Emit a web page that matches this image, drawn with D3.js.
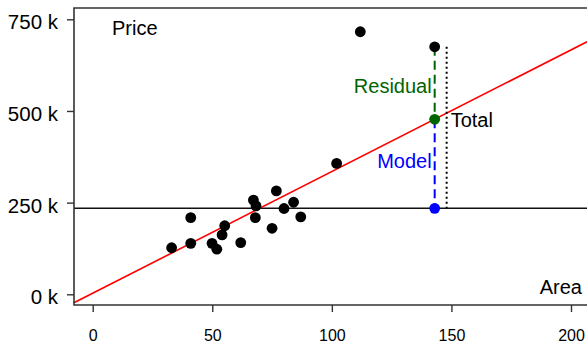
<!DOCTYPE html>
<html>
<head>
<meta charset="utf-8">
<script src="https://cdn.jsdelivr.net/npm/d3@7"></script>
<style>
  body { margin: 0; background: #fff; }
  svg { display: block; font-family: "Liberation Sans", Arial, sans-serif; }
</style>
</head>
<body>
<div id="chart"></div>
<script>
// house area (m2) vs price (k)
const area  = [33, 41, 41, 49.9, 51.9, 54.1, 55.2, 61.9, 67.2, 68.3, 68, 75, 76.8, 80, 84, 87, 102, 111.9, 143];
const price = [127, 209, 139, 139, 123, 162, 187, 141, 257, 241, 209, 180, 282, 234, 251, 211, 357, 716, 675];
const xTicks = [0, 50, 100, 150, 200];
const yTicks = [0, 250, 500, 750];

const meanPrice = 234.5;   // horizontal line
const intercept = 3;       // fitted line
const slope = 3.317;
const pickIdx = 18;        // point used for the decomposition
const totalOffset = 5;     // dotted "Total" line sits a bit to the right

const width = 587, height = 343;
const plotLeft = 74, plotTop = 8, plotBottom = 305;

const svg = d3.select("#chart").append("svg").attr("width", width).attr("height", height);

const x = d3.scaleLinear().domain([0, 200]).range([92.7, 571]);
const y = d3.scaleLinear().domain([0, 750]).range([294.3, 19.3]);

svg.append("clipPath").attr("id", "plotclip")
  .append("rect").attr("x", plotLeft).attr("y", plotTop)
  .attr("width", width - plotLeft).attr("height", plotBottom - plotTop);

const plot = svg.append("g").attr("clip-path", "url(#plotclip)");

// mean line
plot.append("line")
  .attr("x1", plotLeft).attr("x2", width)
  .attr("y1", y(meanPrice)).attr("y2", y(meanPrice))
  .attr("stroke", "#111").attr("stroke-width", 1.6);

// regression line
const x0 = x.invert(plotLeft), x1 = x.invert(width);
plot.append("line")
  .attr("x1", x(x0)).attr("y1", y(intercept + slope * x0))
  .attr("x2", x(x1)).attr("y2", y(intercept + slope * x1))
  .attr("stroke", "red").attr("stroke-width", 1.6);

// decomposition
const pa = area[pickIdx], pp = price[pickIdx];
const fit = intercept + slope * pa;

plot.append("line")
  .attr("x1", x(pa + totalOffset)).attr("x2", x(pa + totalOffset))
  .attr("y1", y(pp)).attr("y2", y(meanPrice))
  .attr("stroke", "#000").attr("stroke-width", 2).attr("stroke-dasharray", "2,3");

plot.append("line")
  .attr("x1", x(pa)).attr("x2", x(pa))
  .attr("y1", y(pp)).attr("y2", y(fit))
  .attr("stroke", "darkgreen").attr("stroke-width", 2).attr("stroke-dasharray", "9,5");

plot.append("line")
  .attr("x1", x(pa)).attr("x2", x(pa))
  .attr("y1", y(fit)).attr("y2", y(meanPrice))
  .attr("stroke", "blue").attr("stroke-width", 2).attr("stroke-dasharray", "9,5");

// points
plot.selectAll("circle.pt")
  .data(area.map((a, i) => [a, price[i]]))
  .join("circle")
  .attr("class", "pt")
  .attr("cx", d => x(d[0]))
  .attr("cy", d => y(d[1]))
  .attr("r", 5.4)
  .attr("fill", "#000");

plot.append("circle").attr("cx", x(pa)).attr("cy", y(fit)).attr("r", 5.4).attr("fill", "darkgreen");
plot.append("circle").attr("cx", x(pa)).attr("cy", y(meanPrice)).attr("r", 5.4).attr("fill", "blue");

// labels
svg.append("text").attr("x", x(pa) - 3).attr("y", 93.3).attr("text-anchor", "end")
  .attr("font-size", 20).attr("fill", "darkgreen").text("Residual");
svg.append("text").attr("x", x(pa) - 3).attr("y", 168.3).attr("text-anchor", "end")
  .attr("font-size", 20).attr("fill", "blue").text("Model");
svg.append("text").attr("x", x(pa + totalOffset) + 4).attr("y", 126.5)
  .attr("font-size", 20).attr("fill", "#000").text("Total");
svg.append("text").attr("x", 112).attr("y", 34.5)
  .attr("font-size", 20).attr("fill", "#000").text("Price");
svg.append("text").attr("x", 582).attr("y", 294).attr("text-anchor", "end")
  .attr("font-size", 20).attr("fill", "#000").text("Area");

// box (left, top, bottom)
const boxColor = "#333";
svg.append("path")
  .attr("d", `M${width},${plotTop}H${plotLeft}V${plotBottom}H${width}`)
  .attr("fill", "none").attr("stroke", boxColor).attr("stroke-width", 1.6);

// axes
const xAxis = svg.append("g").attr("transform", `translate(0,${plotBottom})`)
  .call(d3.axisBottom(x).tickValues(xTicks).tickSize(7).tickPadding(18));
xAxis.select(".domain").remove();
xAxis.selectAll("line").attr("stroke", boxColor).attr("stroke-width", 1.4);
xAxis.selectAll("text").attr("font-size", 16).attr("font-family", "Liberation Sans, Arial, sans-serif").attr("fill", "#000");

const yAxis = svg.append("g").attr("transform", `translate(${plotLeft},0)`)
  .call(d3.axisLeft(y).tickValues(yTicks).tickFormat(d => d + " k").tickSize(7).tickPadding(9));
yAxis.select(".domain").remove();
yAxis.selectAll("line").attr("stroke", boxColor).attr("stroke-width", 1.4);
yAxis.selectAll("text").attr("font-size", 20.5).attr("dy", "0.47em")
  .attr("font-family", "Liberation Sans, Arial, sans-serif").attr("fill", "#000");
</script>
</body>
</html>
